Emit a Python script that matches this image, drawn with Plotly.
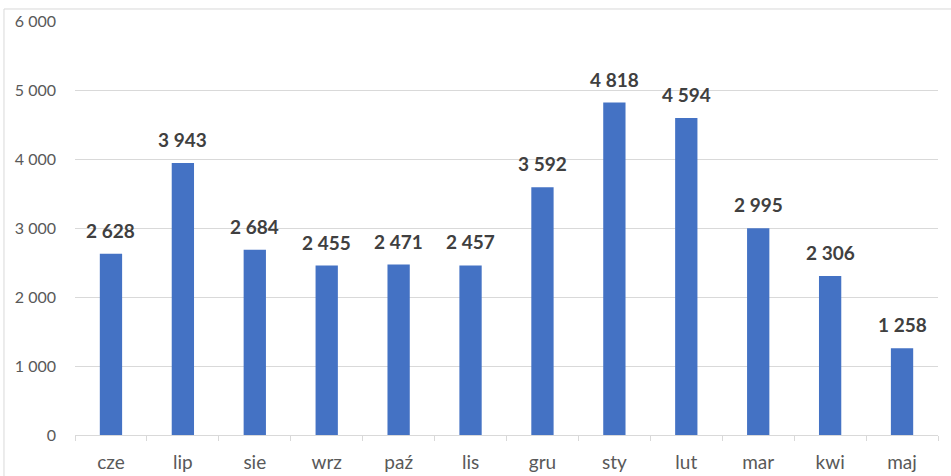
import plotly.graph_objects as go

months = ["cze", "lip", "sie", "wrz", "paź", "lis", "gru", "sty", "lut", "mar", "kwi", "maj"]
values = [2628, 3943, 2684, 2455, 2471, 2457, 3592, 4818, 4594, 2995, 2306, 1258]
y_ticks = [0, 1000, 2000, 3000, 4000, 5000, 6000]
y_tick_text = ["0", "1 000", "2 000", "3 000", "4 000", "5 000", "6 000"]
bar_labels = [f"{v:,}".replace(",", " ") for v in values]

font_family = "Lato, 'Open Sans', sans-serif"

fig = go.Figure(go.Bar(
    x=months, y=values,
    marker=dict(color="#4472C4", line=dict(width=0)),
    hoverinfo="skip",
))

for m, v, lab in zip(months, values, bar_labels):
    fig.add_annotation(x=m, y=v, text=f"<b>{lab}</b>", showarrow=False,
                       yanchor="bottom", yshift=10,
                       font=dict(family=font_family, size=19, color="#404040"))

fig.update_layout(
    width=951, height=476,
    margin=dict(l=75, r=13, t=21, b=41, autoexpand=False),
    paper_bgcolor="white", plot_bgcolor="white",
    bargap=0.69, showlegend=False,
    font=dict(family=font_family),
)
fig.update_xaxes(
    showgrid=False, showline=True, linecolor="#d9d9d9", linewidth=1,
    ticks="outside", tickson="boundaries", ticklen=5, tickcolor="#d9d9d9",
    ticklabelstandoff=10,
    tickfont=dict(size=19, color="#595959"), automargin=False,
)
fig.update_yaxes(
    range=[0, 6000], tickvals=y_ticks, ticktext=y_tick_text,
    showgrid=True, gridcolor="#d9d9d9", gridwidth=1, zeroline=False,
    showline=False, ticks="", ticklabelstandoff=18, automargin=False,
    tickfont=dict(size=16, color="#595959"),
)
fig.add_shape(type="rect", xref="paper", yref="paper",
              x0=-0.0823, x1=1.05, y0=-0.3, y1=1.029,
              line=dict(color="#d9d9d9", width=1), layer="above")

fig.write_html("out.html", config={"displayModeBar": False},
               post_script="document.body.style.margin='0';document.body.style.overflow='hidden';")
